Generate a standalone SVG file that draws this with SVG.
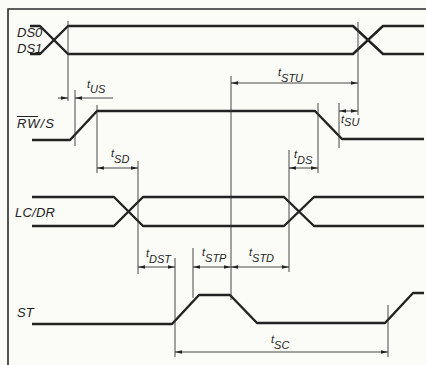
<svg xmlns="http://www.w3.org/2000/svg" width="426" height="365" viewBox="0 0 426 365">
<style>
.bg{fill:#fbfbf8}
.frame{fill:none;stroke:#2a2a2a;stroke-width:1.6}
.sig{fill:none;stroke:#222;stroke-width:2.4;stroke-linejoin:round}
.ext{fill:none;stroke:#333;stroke-width:0.9}
.dim{fill:none;stroke:#333;stroke-width:0.9}
.lbl{font-family:"Liberation Sans",Arial,sans-serif;font-style:italic;font-size:13px;fill:#222}
.tl{font-family:"Liberation Sans",Arial,sans-serif;font-style:italic;font-size:11px;fill:#222}
</style>
<defs>
<marker id="ah" viewBox="0 0 8 4" refX="8" refY="2" markerWidth="7" markerHeight="3.5" markerUnits="userSpaceOnUse" orient="auto-start-reverse">
<path d="M0,0 L8,2 L0,4 z" fill="#222"/>
</marker>
</defs>
<rect class="bg" x="0" y="0" width="426" height="365"/>
<path class="frame" d="M8,365 V9 H426"/>

<g id="DS">
<path class="sig" d="M30,26 H40 L68,54 H353 L383,26 H424"/>
<path class="sig" d="M30,54 H40 L68,26 H353 L383,54 H424"/>
<text class="lbl" x="17" y="37">DS0</text>
<text class="lbl" x="17" y="53">DS1</text>
</g>

<g id="RWS">
<path class="sig" d="M32,140 H70 L97,111 H315 L342,139 H424"/>
<text class="lbl" x="17" y="128" textLength="37">RW/S</text>
<line x1="17" y1="116.5" x2="38" y2="116.5" stroke="#222" stroke-width="1"/>
</g>

<g id="LCDR">
<path class="sig" d="M32,197 H114 L143,226 H284 L314,197 H424"/>
<path class="sig" d="M32,226 H114 L143,197 H284 L314,226 H424"/>
<text class="lbl" x="15" y="217" textLength="40">LC/DR</text>
</g>

<g id="ST">
<path class="sig" d="M32,324 H172 L199,295 H230 L257,323 H385 L413,293 H424"/>
<text class="lbl" x="17" y="317">ST</text>
</g>

<g id="connectors">
<!-- extension lines -->
<line class="ext" x1="68" y1="21" x2="68" y2="101"/>
<line class="ext" x1="75" y1="90" x2="75" y2="146"/>
<line class="ext" x1="97" y1="105" x2="97" y2="173"/>
<line class="ext" x1="138" y1="161" x2="138" y2="274"/>
<line class="ext" x1="175" y1="258" x2="175" y2="357"/>
<line class="ext" x1="193" y1="248" x2="193" y2="298"/>
<line class="ext" x1="231" y1="76" x2="231" y2="300"/>
<line class="ext" x1="289" y1="150" x2="289" y2="272"/>
<line class="ext" x1="318" y1="103" x2="318" y2="173"/>
<line class="ext" x1="339" y1="103" x2="339" y2="148"/>
<line class="ext" x1="358" y1="22" x2="358" y2="115"/>
<line class="ext" x1="388" y1="305" x2="388" y2="357"/>
<!-- dimension arrows -->
<line class="dim" x1="58" y1="98" x2="68" y2="98" marker-end="url(#ah)"/>
<line class="dim" x1="113" y1="98" x2="75" y2="98" marker-end="url(#ah)"/>
<line class="dim" x1="231" y1="83" x2="358" y2="83" marker-start="url(#ah)" marker-end="url(#ah)"/>
<line class="dim" x1="339" y1="111" x2="358" y2="111" marker-start="url(#ah)" marker-end="url(#ah)"/>
<line class="dim" x1="97" y1="168" x2="138" y2="168" marker-start="url(#ah)" marker-end="url(#ah)"/>
<line class="dim" x1="289" y1="168" x2="318" y2="168" marker-start="url(#ah)" marker-end="url(#ah)"/>
<line class="dim" x1="138" y1="267" x2="175" y2="267" marker-start="url(#ah)" marker-end="url(#ah)"/>
<line class="dim" x1="193" y1="267" x2="231" y2="267" marker-start="url(#ah)" marker-end="url(#ah)"/>
<line class="dim" x1="231" y1="267" x2="289" y2="267" marker-start="url(#ah)" marker-end="url(#ah)"/>
<line class="dim" x1="175" y1="352" x2="388" y2="352" marker-start="url(#ah)" marker-end="url(#ah)"/>
</g>

<g id="labels">
<text class="tl" x="87" y="88">t<tspan dy="5">US</tspan></text>
<text class="tl" x="278" y="76">t<tspan dy="6">STU</tspan></text>
<text class="tl" x="341" y="123">t<tspan dy="3">SU</tspan></text>
<text class="tl" x="111" y="157">t<tspan dy="6">SD</tspan></text>
<text class="tl" x="294" y="158">t<tspan dy="6">DS</tspan></text>
<text class="tl" x="146" y="257">t<tspan dy="6">DST</tspan></text>
<text class="tl" x="202" y="256">t<tspan dy="6">STP</tspan></text>
<text class="tl" x="249" y="256">t<tspan dy="6">STD</tspan></text>
<text class="tl" x="271" y="343">t<tspan dy="6">SC</tspan></text>
</g>
</svg>
